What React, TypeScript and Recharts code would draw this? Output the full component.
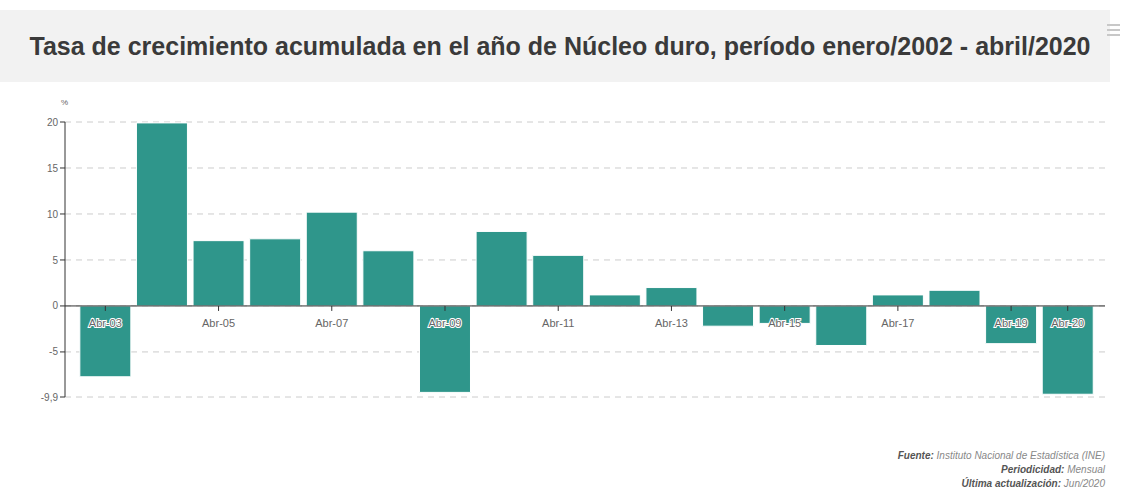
import React from "react";
import { BarChart, Bar, XAxis, YAxis, CartesianGrid, ReferenceLine, LabelList } from "recharts";

const categories = [
  "Abr-03", "Abr-04", "Abr-05", "Abr-06", "Abr-07", "Abr-08", "Abr-09", "Abr-10", "Abr-11",
  "Abr-12", "Abr-13", "Abr-14", "Abr-15", "Abr-16", "Abr-17", "Abr-18", "Abr-19", "Abr-20",
];
const values = [-7.7, 19.9, 7.1, 7.3, 10.2, 6.0, -9.4, 8.1, 5.5, 1.2, 2.0, -2.2, -1.9, -4.3, 1.2, 1.7, -4.1, -9.6];
const shownLabels = ["Abr-03", "Abr-05", "Abr-07", "Abr-09", "Abr-11", "Abr-13", "Abr-15", "Abr-17", "Abr-19", "Abr-20"];
const yTicks = [-9.9, -5, 0, 5, 10, 15, 20];

const data = categories.map((c, i) => ({ name: c, value: values[i] }));

const BAR = "#2f968b";
const fmt = (v: number) => String(v).replace(".", ",");

// category label drawn at the zero line under each bar
const CategoryLabel = (props: any) => {
  const { x, y, width, height, index } = props;
  const name = categories[index];
  if (!shownLabels.includes(name)) return null;
  const v = values[index];
  const y0 = v >= 0 ? Math.max(y, y + height) : Math.min(y, y + height);
  const cx = x + width / 2;
  const onBar = v < -1.5;
  return (
    <g>
      <line x1={cx} x2={cx} y1={y0} y2={y0 + 5} stroke="#333" strokeWidth={1} />
      <text
        x={cx}
        y={y0 + 21}
        textAnchor="middle"
        fontSize={11}
        fontFamily="Liberation Sans, Arial, sans-serif"
        fill="#666"
        stroke={onBar ? "#fff" : "none"}
        strokeWidth={onBar ? 2 : 0}
        paintOrder="stroke"
      >
        {name}
      </text>
    </g>
  );
};

export default function App() {
  return (
    <div style={{ position: "absolute", left: 0, top: 0, width: 1127, height: 497, background: "#fff", fontFamily: "Liberation Sans, Arial, sans-serif" }}>
      <div
        style={{
          position: "absolute", left: 0, top: 10, width: 1110, height: 72, background: "#f2f2f2",
          display: "flex", alignItems: "center", justifyContent: "center", boxSizing: "border-box", paddingLeft: 10,
          fontSize: 25, fontWeight: "bold", color: "#3a3a3a",
        }}
      >
        Tasa de crecimiento acumulada en el año de Núcleo duro, período enero/2002 - abril/2020
      </div>
      <div style={{ position: "absolute", left: 1107, top: 24, width: 13 }}>
        {[0, 1, 2].map((i) => (
          <div key={i} style={{ height: 2, background: "#c8c8c8", marginBottom: 3 }} />
        ))}
      </div>
      <div style={{ position: "absolute", left: 61, top: 98, fontSize: 8, color: "#666" }}>%</div>
      <div style={{ position: "absolute", left: 0, top: 0 }}>
        <BarChart
          width={1127}
          height={497}
          data={data}
          margin={{ top: 122, right: 22, bottom: 100, left: 0 }}
          barCategoryGap="5%"
        >
          <CartesianGrid vertical={false} stroke="#ccc" strokeDasharray="6 5" />
          <XAxis dataKey="name" hide padding={{ left: 12, right: 9 }} />
          <YAxis
            type="number"
            domain={[-9.9, 20]}
            ticks={yTicks}
            interval={0}
            width={65}
            tickFormatter={fmt}
            tick={{ fontSize: 10, fill: "#666" }}
            tickSize={5}
            tickMargin={2}
            axisLine={{ stroke: "#333" }}
            tickLine={{ stroke: "#333" }}
          />
          <ReferenceLine y={0} stroke="#333" strokeWidth={1} />
          <Bar dataKey="value" fill={BAR} stroke="#fff" strokeWidth={1} isAnimationActive={false}>
            <LabelList dataKey="value" content={<CategoryLabel />} />
          </Bar>
        </BarChart>
      </div>
      <div style={{ position: "absolute", right: 22, top: 449, textAlign: "right", fontSize: 10, fontStyle: "italic", color: "#888", lineHeight: "14px" }}>
        <div><b style={{ color: "#555" }}>Fuente:</b> Instituto Nacional de Estadística (INE)</div>
        <div><b style={{ color: "#555" }}>Periodicidad:</b> Mensual</div>
        <div><b style={{ color: "#555" }}>Última actualización:</b> Jun/2020</div>
      </div>
    </div>
  );
}
